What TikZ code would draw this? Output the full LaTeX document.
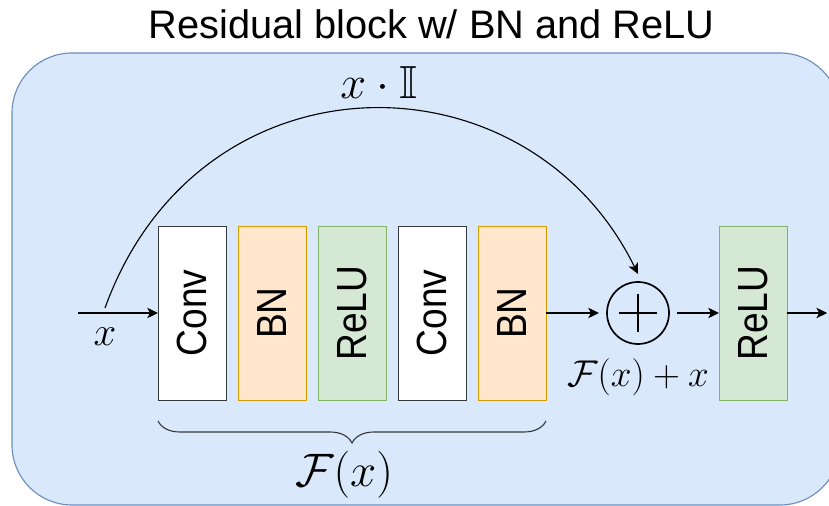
\RequirePackage{fix-cm}
\documentclass[tikz,border=0pt]{standalone}
\usepackage{amsmath,amssymb}
\usepackage{fontspec}
\usetikzlibrary{arrows.meta,positioning,decorations.pathreplacing}
\newfontfamily\sansfont{Liberation Sans}
\newcommand{\titlefont}{\sansfont\fontsize{28.3}{32}\selectfont}
\newcommand{\blockfont}{\sansfont\fontsize{30}{34}\selectfont}
\newcommand{\blocklabel}[1]{\rotatebox{90}{\scalebox{0.88}[1]{#1}}}
\definecolor{bgfill}{HTML}{DAE8FC}
\definecolor{bgline}{HTML}{6C8EBF}
\definecolor{bnfill}{HTML}{FFE6CC}
\definecolor{bnline}{HTML}{D79B00}
\definecolor{relufill}{HTML}{D5E8D4}
\definecolor{reluline}{HTML}{82B366}
\definecolor{convline}{HTML}{36393D}

\begin{document}
\begin{tikzpicture}[>={Stealth[length=0.27cm,width=0.26cm,inset=0.07cm]},line width=0.8pt,
  layer/.style={draw,line width=0.7pt,minimum width=1.7cm,minimum height=4.35cm,inner sep=0pt,outer sep=0pt,font=\blockfont},
  convbox/.style={layer,fill=white,draw=convline},
  bnbox/.style={layer,fill=bnfill,draw=bnline},
  relubox/.style={layer,fill=relufill,draw=reluline}]
  \useasboundingbox (0,0) rectangle (20.725,12.65);
  \fill[bgfill,draw=bgline,rounded corners=1.5cm] (0.3,0.025) rectangle (21.0,11.325);
  \node[font=\titlefont,anchor=base] (title) at (10.79,11.675) {Residual block w/ BN and ReLU};

  % layers of F(x)
  \node[convbox] (conv1) at (4.8,4.825) {\blocklabel{Conv}};
  \node[bnbox,right=0.3cm of conv1] (bn1) {\blocklabel{BN}};
  \node[relubox,right=0.3cm of bn1] (relu1) {\blocklabel{ReLU}};
  \node[convbox,right=0.3cm of relu1] (conv2) {\blocklabel{Conv}};
  \node[bnbox,right=0.3cm of conv2] (bn2) {\blocklabel{BN}};

  \node[circle,draw,line width=1.2pt,minimum size=1.55cm,outer sep=0.2cm,right=1.325cm of bn2] (add) {};
  \draw[line width=1.2pt] ([xshift=-0.475cm]add.center) -- ([xshift=0.475cm]add.center);
  \draw[line width=1.2pt] ([yshift=-0.475cm]add.center) -- ([yshift=0.475cm]add.center);
  \node[relubox,right=1.05cm of add] (relu2) {\blocklabel{ReLU}};

  \coordinate (in) at (1.95,4.825);
  \coordinate (split) at (2.625,4.95);
  \coordinate (out) at (20.68,4.825);
  \draw[->] (in) -- (conv1);
  \draw[->] (bn2) -- (add);
  \draw[->] (add) -- (relu2);
  \draw[->] (relu2) -- (out);
  \draw[->] (split) .. controls (4.975,11.45) and (13.175,11.45) .. (add.north);

  \node[font=\fontsize{29}{32}\selectfont] (xin) at (2.625,4.225) {$x$};
  \node[font=\fontsize{33}{36}\selectfont] (xid) at (9.475,10.575) {$x\cdot\mathbb{I}$};
  \node[font=\fontsize{26.5}{30}\selectfont] (sum) at (15.95,3.225) {$\mathcal{F}(x)+x$};

  \draw[draw=convline,decorate,decoration={brace,mirror,amplitude=0.55cm}]
    ([yshift=-0.525cm]conv1.south west) -- ([yshift=-0.525cm]bn2.south east);
  \node[font=\fontsize{33.4}{38}\selectfont] (fx) at (8.6,0.775) {$\mathcal{F}(x)$};
\end{tikzpicture}
\end{document}
